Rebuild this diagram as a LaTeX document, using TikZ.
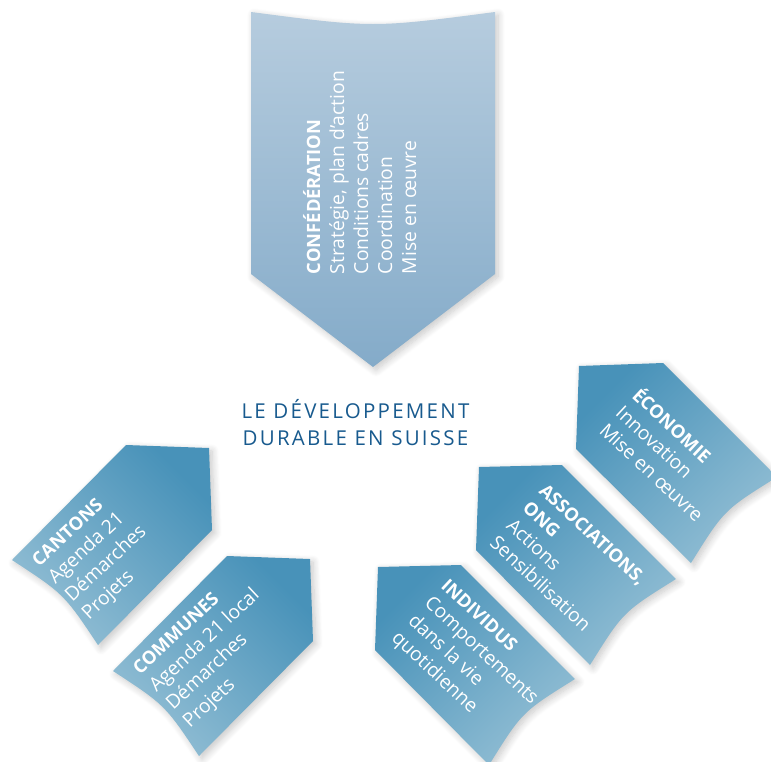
\documentclass[tikz,border=0pt]{standalone}
\usepackage{fontspec}
\setmainfont{Open Sans}
\usetikzlibrary{shadows.blur}
\definecolor{topLight}{RGB}{182,204,222}
\definecolor{topDark}{RGB}{132,171,201}
\definecolor{tipBlue}{RGB}{72,146,185}
\definecolor{tailBlue}{RGB}{146,190,212}
\definecolor{titleBlue}{RGB}{24,90,142}
\tikzset{
  shp/.style={blur shadow={shadow xshift=3pt, shadow yshift=-3pt, shadow opacity=22, shadow blur radius=7pt, shadow blur steps=10}},
  lbl/.style={anchor=base west, inner sep=0pt, outer sep=0pt, text=white, font=\fontsize{19.3}{22}\selectfont},
  lblb/.style={lbl, font=\fontsize{18.3}{22}\selectfont\bfseries},
  ttl/.style={anchor=base, inner sep=0pt, text=titleBlue, font=\fontsize{20.5}{24}\selectfont\addfontfeatures{LetterSpace=11}}
}
\begin{document}
\begin{tikzpicture}[x=1pt,y=-1pt]
\useasboundingbox (0,0) rectangle (771,761);
\clip (0,0) rectangle (771,761);
% shapes
\path[shp, top color=topLight, bottom color=topDark]
  (251,12) .. controls (373,28) .. (495,12) -- (495,274) -- (373,367) -- (251,274) -- cycle;
\path[shp, top color=tipBlue, bottom color=tailBlue, shading angle=-45]
  (126,445) -- (209,448) -- (212,530) -- (98,645) .. controls (64,594) .. (12,560) -- cycle;
\path[shp, top color=tipBlue, bottom color=tailBlue, shading angle=-45]
  (227,556) -- (310,559) -- (313,641) -- (199,756) .. controls (165,705) .. (113,671) -- cycle;
\path[shp, top color=tipBlue, bottom color=tailBlue, shading angle=45]
  (579,366) -- (663,363) -- (777,477) .. controls (724,510) .. (691,563) -- (576,449) -- cycle;
\path[shp, top color=tipBlue, bottom color=tailBlue, shading angle=45]
  (479,467) -- (562,465) -- (676,579) .. controls (623,612) .. (590,665) -- (476,550) -- cycle;
\path[shp, top color=tipBlue, bottom color=tailBlue, shading angle=45]
  (378,567) -- (461,565) -- (575,679) .. controls (522,712) .. (489,765) -- (375,650) -- cycle;
% title
\node[ttl] (t1) at (355.5,418) {LE DÉVELOPPEMENT};
\node[ttl] (t2) at (355.5,445) {DURABLE EN SUISSE};
% confederation
\begin{scope}[shift={(320,274)}, rotate=90, transform shape]
  \node[lblb] (c1) at (0,0) {CONFÉDÉRATION};
  \node[lbl] (c2) at (0,24) {Stratégie, plan d’action};
  \node[lbl] (c3) at (0,48) {Conditions cadres};
  \node[lbl] (c4) at (0,72) {Coordination};
  \node[lbl] (c5) at (0,96) {Mise en œuvre};
\end{scope}
% cantons
\begin{scope}[shift={(39,567)}, rotate=43, transform shape]
  \node[lblb] (k1) at (0,0) {CANTONS};
  \node[lbl] (k2) at (0,24.5) {Agenda 21};
  \node[lbl] (k3) at (0,49) {Démarches};
  \node[lbl] (k4) at (0,73.5) {Projets};
\end{scope}
% communes
\begin{scope}[shift={(140,675)}, rotate=43, transform shape]
  \node[lblb] (m1) at (0,0) {COMMUNES};
  \node[lbl] (m2) at (0,24.5) {Agenda 21 local};
  \node[lbl] (m3) at (0,49) {Démarches};
  \node[lbl] (m4) at (0,73.5) {Projets};
\end{scope}
% economie
\begin{scope}[shift={(631,397)}, rotate=-43, transform shape]
  \node[lblb] (e1) at (0,0) {ÉCONOMIE};
  \node[lbl] (e2) at (0,24) {Innovation};
  \node[lbl] (e3) at (0,48) {Mise en œuvre};
\end{scope}
% associations
\begin{scope}[shift={(538,492)}, rotate=-43, transform shape]
  \node[lblb] (a1) at (0,0) {ASSOCIATIONS,};
  \node[lblb] (a2) at (0,24) {ONG};
  \node[lbl] (a3) at (0,48) {Actions};
  \node[lbl] (a4) at (0,72) {Sensibilisation};
\end{scope}
% individus
\begin{scope}[shift={(440,587)}, rotate=-43, transform shape]
  \node[lblb] (i1) at (0,0) {INDIVIDUS};
  \node[lbl] (i2) at (0,24) {Comportements};
  \node[lbl] (i3) at (0,48) {dans la vie};
  \node[lbl] (i4) at (0,72) {quotidienne};
\end{scope}
\end{tikzpicture}
\end{document}
